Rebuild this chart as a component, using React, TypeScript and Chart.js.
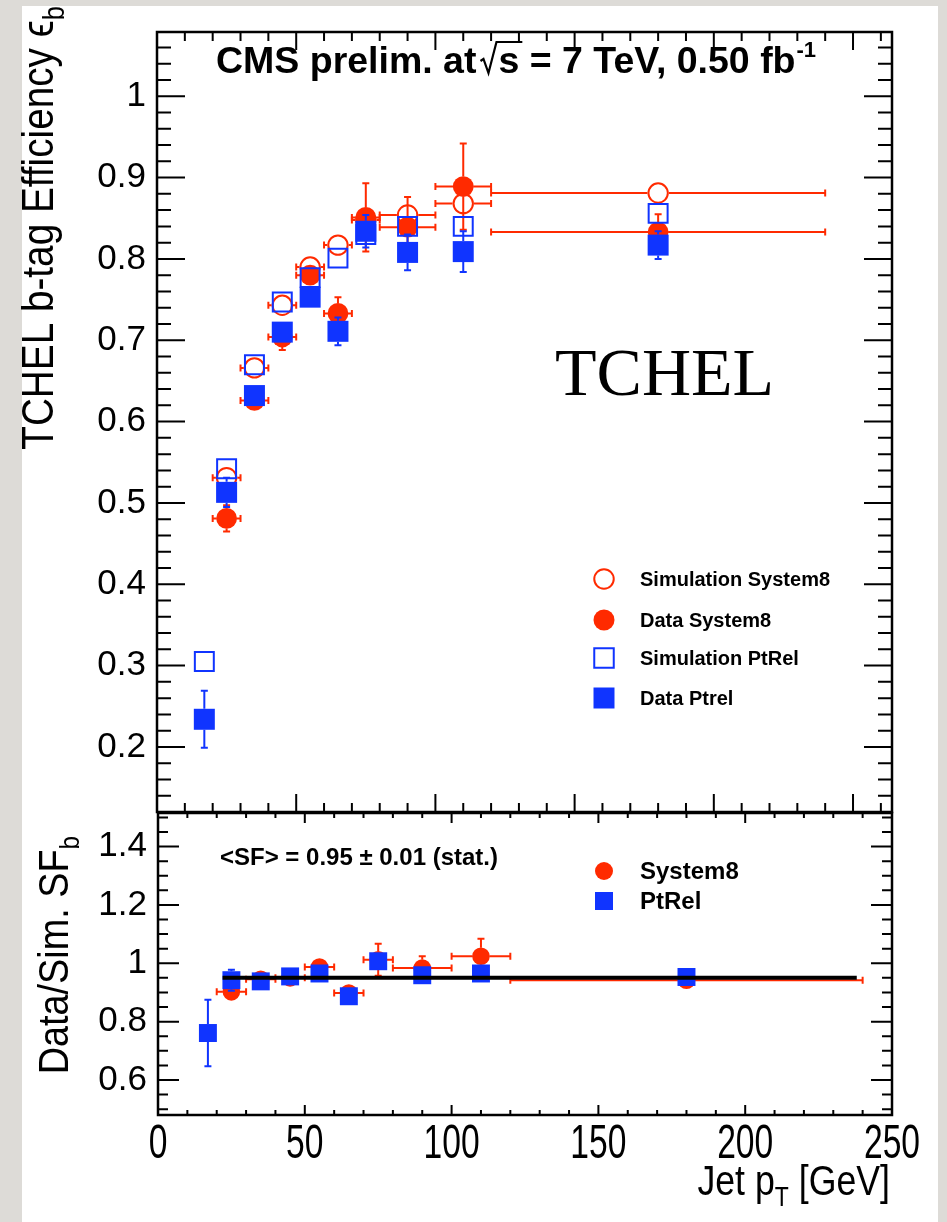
import React, { useEffect, useRef } from "react";
import { Chart, registerables } from "chart.js";

Chart.register(...registerables);

// ---------------- data ----------------
const PTREL_PT = [17, 25, 35, 45, 55, 65, 75, 90, 110, 180];
const SYS8_PT = [25, 35, 45, 55, 65, 75, 90, 110, 180];
const SYS8_PT_ERR = [5, 5, 5, 5, 5, 5, 10, 10, 60];

const SIM_SYS8_EFF = [0.531, 0.666, 0.743, 0.79, 0.817, 0.848, 0.854, 0.868, 0.881];
const DATA_SYS8_EFF = [0.481, 0.626, 0.704, 0.78, 0.733, 0.851, 0.839, 0.889, 0.833];
const DATA_SYS8_EFF_ERR = [0.016, 0.01, 0.016, 0.012, 0.02, 0.042, 0.037, 0.053, 0.022];
const SIM_PTREL_EFF = [0.305, 0.542, 0.67, 0.747, 0.777, 0.801, 0.83, 0.84, 0.84, 0.856];
const DATA_PTREL_EFF = [0.234, 0.513, 0.632, 0.71, 0.753, 0.711, 0.834, 0.808, 0.809, 0.817];
const DATA_PTREL_EFF_ERR = [0.035, 0.018, 0.008, 0.01, 0.012, 0.017, 0.02, 0.022, 0.025, 0.017];

const SF_SYS8 = [0.902, 0.945, 0.95, 0.987, 0.898, 1.012, 0.984, 1.024, 0.942];
const SF_SYS8_ERR = [0.02, 0.015, 0.015, 0.015, 0.02, 0.055, 0.04, 0.06, 0.02];
const SF_PTREL = [0.761, 0.942, 0.938, 0.955, 0.965, 0.887, 1.007, 0.959, 0.965, 0.953];
const SF_PTREL_ERR = [0.114, 0.036, 0.015, 0.015, 0.02, 0.02, 0.025, 0.03, 0.03, 0.02];

const SF_MEAN = 0.95;
const SF_MEAN_RANGE = [22, 238];

const EFF_Y_TICKS = [0.2, 0.3, 0.4, 0.5, 0.6, 0.7, 0.8, 0.9, 1.0];
const SF_Y_TICKS = [0.6, 0.8, 1.0, 1.2, 1.4];
const PT_X_TICKS = [0, 50, 100, 150, 200, 250];

const LEGEND_TOP = ["Simulation System8", "Data System8", "Simulation PtRel", "Data Ptrel"];
const LEGEND_BOTTOM = ["System8", "PtRel"];

// ---------------- styling ----------------
const RED = "#ff2a00";
const BLUE = "#1034ff";
const FONT_SANS = "'Liberation Sans', Arial, Helvetica, sans-serif";
const FONT_SERIF = "'Liberation Serif', 'Times New Roman', serif";

const pts = (xs: number[], ys: number[]) => xs.map((x, i) => ({ x, y: ys[i] }));
const fmt = (v: number) => String(Math.round(v * 100) / 100);

function forEachTick(min: number, max: number, step: number, major: number, cb: (v: number, isMajor: boolean) => void) {
  const k0 = Math.ceil(min / step - 1e-6);
  for (let k = k0; k * step <= max + 1e-6; k++) {
    const v = k * step;
    const r = v / major;
    cb(v, Math.abs(r - Math.round(r)) < 1e-6);
  }
}

function framePlugin(cfg: any) {
  return {
    id: "rootFrame",
    afterDatasetsDraw(chart: any) {
      const { ctx, chartArea: a, scales } = chart;
      const xs = scales.x, ys = scales.y;
      ctx.save();
      ctx.strokeStyle = "#000";
      ctx.lineWidth = 2;
      ctx.beginPath();
      forEachTick(xs.min, xs.max, cfg.xMinor, cfg.xMajor, (v, mj) => {
        const px = xs.getPixelForValue(v);
        const L = mj ? cfg.xMajorLen : cfg.xMinorLen;
        ctx.moveTo(px, a.bottom);
        ctx.lineTo(px, a.bottom - L);
        ctx.moveTo(px, a.top);
        ctx.lineTo(px, a.top + L);
      });
      forEachTick(ys.min, ys.max, cfg.yMinor, cfg.yMajor, (v, mj) => {
        const py = ys.getPixelForValue(v);
        ctx.moveTo(a.left, py);
        ctx.lineTo(a.left + (mj ? cfg.yMajorLen : cfg.yMinorLen), py);
        ctx.moveTo(a.right, py);
        ctx.lineTo(a.right - (mj ? cfg.yMajorLen : cfg.yMinorLen), py);
      });
      ctx.stroke();
      ctx.lineWidth = 2.5;
      ctx.strokeRect(a.left, a.top, a.right - a.left, a.bottom - a.top);
      ctx.restore();
    },
  };
}

const errorBarPlugin = {
  id: "errBars",
  afterDatasetDraw(chart: any, args: any) {
    const ds: any = chart.data.datasets[args.index];
    if (!ds.xerr && !ds.yerr) return;
    const ctx = chart.ctx;
    const xs = chart.scales.x, ys = chart.scales.y, a = chart.chartArea;
    const gap = ds.errGap || 0;
    const cap = 3.5;
    ctx.save();
    ctx.beginPath();
    ctx.rect(a.left, a.top, a.right - a.left, a.bottom - a.top);
    ctx.clip();
    ctx.strokeStyle = ds.errColor;
    ctx.lineWidth = 2;
    ctx.beginPath();
    ds.data.forEach((p: any, i: number) => {
      const cx = xs.getPixelForValue(p.x);
      const cy = ys.getPixelForValue(p.y);
      if (ds.xerr) {
        const l = xs.getPixelForValue(p.x - ds.xerr[i]);
        const r = xs.getPixelForValue(p.x + ds.xerr[i]);
        if (l < cx - gap) {
          ctx.moveTo(l, cy); ctx.lineTo(cx - gap, cy);
          ctx.moveTo(l, cy - cap); ctx.lineTo(l, cy + cap);
        }
        if (r > cx + gap) {
          ctx.moveTo(cx + gap, cy); ctx.lineTo(r, cy);
          ctx.moveTo(r, cy - cap); ctx.lineTo(r, cy + cap);
        }
      }
      if (ds.yerr) {
        const t = ys.getPixelForValue(p.y + ds.yerr[i]);
        const b = ys.getPixelForValue(p.y - ds.yerr[i]);
        if (t < cy - gap) {
          ctx.moveTo(cx, t); ctx.lineTo(cx, cy - gap);
          ctx.moveTo(cx - cap, t); ctx.lineTo(cx + cap, t);
        }
        if (b > cy + gap) {
          ctx.moveTo(cx, cy + gap); ctx.lineTo(cx, b);
          ctx.moveTo(cx - cap, b); ctx.lineTo(cx + cap, b);
        }
      }
    });
    ctx.stroke();
    ctx.restore();
  },
};

function drawMarker(ctx: CanvasRenderingContext2D, kind: string, x: number, y: number, size: number, color: string) {
  ctx.save();
  ctx.beginPath();
  if (kind.startsWith("circle")) ctx.arc(x, y, size / 2, 0, Math.PI * 2);
  else ctx.rect(x - size / 2, y - size / 2, size, size);
  if (kind.endsWith("Open")) {
    ctx.strokeStyle = color;
    ctx.lineWidth = 2;
    ctx.stroke();
  } else {
    ctx.fillStyle = color;
    ctx.fill();
  }
  ctx.restore();
}

// condensed text with subscripts, ending at the current origin
function drawSubText(
  ctx: CanvasRenderingContext2D,
  parts: { t: string; sub?: boolean }[],
  size: number,
  sx: number
) {
  ctx.fillStyle = "#000";
  ctx.textAlign = "left";
  ctx.textBaseline = "alphabetic";
  const subSize = Math.round(size * 0.65);
  const widths = parts.map((p) => {
    ctx.font = `${p.sub ? subSize : size}px ${FONT_SANS}`;
    return ctx.measureText(p.t).width;
  });
  const total = widths.reduce((s, w) => s + w, 0);
  ctx.scale(sx, 1);
  let x = -total;
  parts.forEach((p, i) => {
    ctx.font = `${p.sub ? subSize : size}px ${FONT_SANS}`;
    ctx.fillText(p.t, x, p.sub ? size * 0.26 : 0);
    x += widths[i];
  });
}

const topTextPlugin = {
  id: "topText",
  afterDraw(chart: any) {
    const ctx: CanvasRenderingContext2D = chart.ctx;
    ctx.save();
    ctx.fillStyle = "#000";
    ctx.textAlign = "left";
    ctx.textBaseline = "alphabetic";
    // title
    let x = 216;
    const y = 73;
    ctx.font = `bold 37.5px ${FONT_SANS}`;
    const t1 = "CMS prelim. at";
    ctx.fillText(t1, x, y);
    x += ctx.measureText(t1).width + 4;
    const sw = ctx.measureText("s").width;
    ctx.save();
    ctx.strokeStyle = "#000";
    ctx.lineWidth = 2.2;
    ctx.beginPath();
    ctx.moveTo(x, y - 12);
    ctx.lineTo(x + 3, y - 14);
    ctx.lineTo(x + 8, y);
    ctx.lineTo(x + 16, y - 31);
    ctx.lineTo(x + 18 + sw + 3, y - 31);
    ctx.stroke();
    ctx.restore();
    x += 18;
    ctx.fillText("s", x, y);
    x += sw;
    const t2 = " = 7 TeV, 0.50 fb";
    ctx.fillText(t2, x, y);
    x += ctx.measureText(t2).width + 1;
    ctx.font = `bold 22px ${FONT_SANS}`;
    ctx.fillText("-1", x, y - 16);

    // TCHEL
    ctx.font = `68px ${FONT_SERIF}`;
    ctx.fillText("TCHEL", 555, 395);

    // legend
    const rows = [579, 620, 658, 698];
    const kinds = ["circleOpen", "circle", "squareOpen", "square"];
    const cols = [RED, RED, BLUE, BLUE];
    ctx.font = `bold 20px ${FONT_SANS}`;
    ctx.textBaseline = "middle";
    LEGEND_TOP.forEach((lbl, i) => {
      drawMarker(ctx, kinds[i], 604, rows[i], kinds[i].endsWith("Open") ? 19.5 : 21, cols[i]);
      ctx.fillText(lbl, 640, rows[i] + 1);
    });
    ctx.restore();

    // y title (rotated)
    ctx.save();
    ctx.translate(53, 6);
    ctx.rotate(-Math.PI / 2);
    drawSubText(ctx, [{ t: "TCHEL b-tag Efficiency \u03f5" }, { t: "b", sub: true }], 44, 0.88);
    ctx.restore();
  },
};

const bottomTextPlugin = {
  id: "bottomText",
  afterDraw(chart: any) {
    const ctx: CanvasRenderingContext2D = chart.ctx;
    ctx.save();
    ctx.fillStyle = "#000";
    ctx.textAlign = "left";
    ctx.textBaseline = "middle";
    ctx.font = `bold 24px ${FONT_SANS}`;
    ctx.fillText("<SF> = 0.95 \u00b1 0.01 (stat.)", 220, 858);

    const rows = [871, 901];
    const kinds = ["circle", "square"];
    const cols = [RED, BLUE];
    LEGEND_BOTTOM.forEach((lbl, i) => {
      drawMarker(ctx, kinds[i], 604, rows[i], 18, cols[i]);
      ctx.fillText(lbl, 640, rows[i] + 1);
    });
    ctx.restore();

    // x tick labels (condensed), taken from the x scale's ticks
    const xs = chart.scales.x;
    ctx.save();
    ctx.fillStyle = "#000";
    ctx.font = `48px ${FONT_SANS}`;
    ctx.textAlign = "center";
    ctx.textBaseline = "alphabetic";
    xs.ticks.forEach((t: any) => {
      ctx.save();
      ctx.translate(xs.getPixelForValue(t.value), 1158);
      ctx.scale(0.7, 1);
      ctx.fillText(String(t.value), 0, 0);
      ctx.restore();
    });
    ctx.restore();

    // x title
    ctx.save();
    ctx.translate(890, 1195);
    drawSubText(ctx, [{ t: "Jet p" }, { t: "T", sub: true }, { t: " [GeV]" }], 42, 0.85);
    ctx.restore();

    // y title
    ctx.save();
    ctx.translate(68, 836);
    ctx.rotate(-Math.PI / 2);
    drawSubText(ctx, [{ t: "Data/Sim. SF" }, { t: "b", sub: true }], 42, 0.9);
    ctx.restore();
  },
};

function topConfig(): any {
  return {
    type: "scatter",
    data: {
      datasets: [
        {
          label: LEGEND_TOP[0],
          data: pts(SYS8_PT, SIM_SYS8_EFF),
          pointStyle: "circle",
          pointRadius: 9.7,
          pointBackgroundColor: "rgba(0,0,0,0)",
          pointBorderColor: RED,
          pointBorderWidth: 2,
          xerr: SYS8_PT_ERR,
          errColor: RED,
          errGap: 10.7,
          order: 4,
        },
        {
          label: LEGEND_TOP[1],
          data: pts(SYS8_PT, DATA_SYS8_EFF),
          pointStyle: "circle",
          pointRadius: 10.4,
          pointBackgroundColor: RED,
          pointBorderColor: RED,
          pointBorderWidth: 0,
          xerr: SYS8_PT_ERR,
          yerr: DATA_SYS8_EFF_ERR,
          errColor: RED,
          errGap: 10,
          order: 3,
        },
        {
          label: LEGEND_TOP[2],
          data: pts(PTREL_PT, SIM_PTREL_EFF),
          pointStyle: "rect",
          pointRadius: 13.4,
          pointBackgroundColor: "rgba(0,0,0,0)",
          pointBorderColor: BLUE,
          pointBorderWidth: 2,
          order: 2,
        },
        {
          label: LEGEND_TOP[3],
          data: pts(PTREL_PT, DATA_PTREL_EFF),
          pointStyle: "rect",
          pointRadius: 14.85,
          pointBackgroundColor: BLUE,
          pointBorderColor: BLUE,
          pointBorderWidth: 0,
          yerr: DATA_PTREL_EFF_ERR,
          errColor: BLUE,
          errGap: 10.5,
          order: 1,
        },
      ],
    },
    options: {
      responsive: false,
      animation: false,
      devicePixelRatio: 1,
      events: [],
      layout: { padding: { top: 24, right: 55, left: 0, bottom: 410 } },
      plugins: { legend: { display: false }, tooltip: { enabled: false } },
      scales: {
        x: {
          type: "linear",
          min: 0,
          max: 264,
          grid: { display: false, drawTicks: false },
          border: { display: false },
          ticks: { display: false },
          afterFit: (s: any) => { s.height = 0; },
        },
        y: {
          type: "linear",
          min: 0.12,
          max: 1.079,
          grid: { display: false, drawTicks: false },
          border: { display: false },
          afterBuildTicks: (s: any) => { s.ticks = EFF_Y_TICKS.map((v) => ({ value: v })); },
          afterFit: (s: any) => { s.width = 157; },
          ticks: {
            padding: 11,
            color: "#000",
            font: { family: FONT_SANS, size: 35 },
            callback: (v: number) => fmt(v),
          },
        },
      },
    },
    plugins: [
      framePlugin({ xMinor: 10, xMajor: 50, yMinor: 0.02, yMajor: 0.1, xMajorLen: 18, xMinorLen: 9, yMajorLen: 28, yMinorLen: 14 }),
      errorBarPlugin,
      topTextPlugin,
    ],
  };
}

function bottomConfig(): any {
  return {
    type: "scatter",
    data: {
      datasets: [
        {
          type: "line",
          label: "<SF>",
          data: [
            { x: SF_MEAN_RANGE[0], y: SF_MEAN },
            { x: SF_MEAN_RANGE[1], y: SF_MEAN },
          ],
          borderColor: "#000",
          borderWidth: 4,
          pointRadius: 0,
          fill: false,
          order: 0,
        },
        {
          label: LEGEND_BOTTOM[0],
          data: pts(SYS8_PT, SF_SYS8),
          pointStyle: "circle",
          pointRadius: 8.8,
          pointBackgroundColor: RED,
          pointBorderColor: RED,
          pointBorderWidth: 0,
          xerr: SYS8_PT_ERR,
          yerr: SF_SYS8_ERR,
          errColor: RED,
          errGap: 8.5,
          order: 2,
        },
        {
          label: LEGEND_BOTTOM[1],
          data: pts(PTREL_PT, SF_PTREL),
          pointStyle: "rect",
          pointRadius: 12.7,
          pointBackgroundColor: BLUE,
          pointBorderColor: BLUE,
          pointBorderWidth: 0,
          yerr: SF_PTREL_ERR,
          errColor: BLUE,
          errGap: 9,
          order: 1,
        },
      ],
    },
    options: {
      responsive: false,
      animation: false,
      devicePixelRatio: 1,
      events: [],
      layout: { padding: { top: 813, right: 55, left: 0, bottom: 0 } },
      plugins: { legend: { display: false }, tooltip: { enabled: false } },
      scales: {
        x: {
          type: "linear",
          min: 0,
          max: 250,
          grid: { display: false, drawTicks: false },
          border: { display: false },
          afterBuildTicks: (s: any) => { s.ticks = PT_X_TICKS.map((v) => ({ value: v })); },
          afterFit: (s: any) => { s.height = 107; },
          ticks: { display: false },
        },
        y: {
          type: "linear",
          min: 0.48,
          max: 1.515,
          grid: { display: false, drawTicks: false },
          border: { display: false },
          afterBuildTicks: (s: any) => { s.ticks = SF_Y_TICKS.map((v) => ({ value: v })); },
          afterFit: (s: any) => { s.width = 158; },
          ticks: {
            padding: 11,
            color: "#000",
            font: { family: FONT_SANS, size: 35 },
            callback: (v: number) => fmt(v),
          },
        },
      },
    },
    plugins: [
      framePlugin({ xMinor: 10, xMajor: 50, yMinor: 0.05, yMajor: 0.2, xMajorLen: 10, xMinorLen: 5, yMajorLen: 21, yMinorLen: 10 }),
      errorBarPlugin,
      bottomTextPlugin,
    ],
  };
}

export default function App() {
  const topRef = useRef<HTMLCanvasElement>(null);
  const botRef = useRef<HTMLCanvasElement>(null);
  useEffect(() => {
    const top = new Chart(topRef.current as HTMLCanvasElement, topConfig());
    const bot = new Chart(botRef.current as HTMLCanvasElement, bottomConfig());
    return () => {
      top.destroy();
      bot.destroy();
    };
  }, []);
  const cs: React.CSSProperties = { position: "absolute", left: 0, top: 0, width: 947, height: 1222 };
  return (
    <div style={{ position: "absolute", left: 0, top: 0, width: 947, height: 1222, background: "#dddbd7", overflow: "hidden" }}>
      <div style={{ position: "absolute", left: 22, top: 6, width: 916, height: 1216, background: "#ffffff" }} />
      <canvas ref={topRef} width={947} height={1222} style={cs} />
      <canvas ref={botRef} width={947} height={1222} style={cs} />
    </div>
  );
}
